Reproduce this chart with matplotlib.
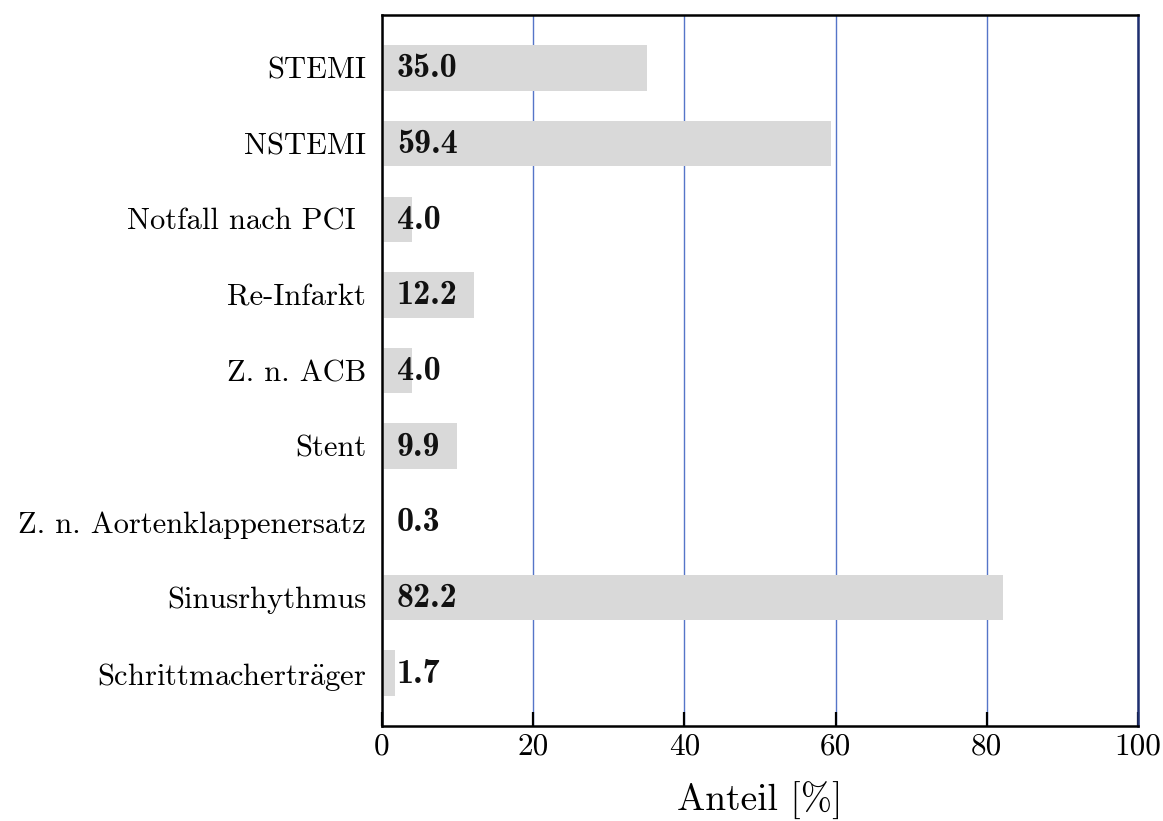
import matplotlib
matplotlib.use("Agg")
import matplotlib.pyplot as plt

categories = [
    "STEMI",
    "NSTEMI",
    "Notfall nach PCI ",
    "Re-Infarkt",
    "Z. n. ACB",
    "Stent",
    "Z. n. Aortenklappenersatz",
    "Sinusrhythmus",
    r"Schrittmachertr$\ddot{\mathrm{a}}$ger",
]
values = [35.0, 59.4, 4.0, 12.2, 4.0, 9.9, 0.3, 82.2, 1.7]
xticks = [0, 20, 40, 60, 80, 100]
xlabel = "Anteil [%]"

plt.rcParams["font.family"] = ["cmr10", "DejaVu Serif"]
plt.rcParams["mathtext.fontset"] = "cm"
plt.rcParams["axes.formatter.use_mathtext"] = True

fig = plt.figure(figsize=(11.63, 8.21), dpi=100)
ax = fig.add_axes([382 / 1163, 1 - 726 / 821, (1138 - 382) / 1163, (726 - 15) / 821])

ypos = list(range(len(categories)))
ax.barh(ypos, values, height=0.6, color="#d9d9d9", zorder=2)
for y, v in zip(ypos, values):
    ax.annotate(f"{v:.1f}", xy=(0, y), xytext=(15, -1), textcoords="offset pixels",
                ha="left", va="center", fontsize=24.5, family=["cmb10", "DejaVu Serif"],
                color="#111111", zorder=3)

ax.set_xlim(0, 100)
ax.set_ylim(len(categories) - 1 + 0.7, -0.7)
ax.set_yticks(ypos)
ax.set_yticklabels(categories, fontsize=22)
ax.set_xticks(xticks)
ax.set_xticklabels([str(t) for t in xticks], fontsize=22.5)

ax.tick_params(axis="y", length=0, pad=11.5)
ax.tick_params(axis="x", direction="in", length=10, width=1.6, pad=5, top=False)

ax.grid(axis="x", color="#5575c8", linewidth=1.0, zorder=1)
ax.grid(axis="y", visible=False)
ax.set_axisbelow(True)

for s in ax.spines.values():
    s.set_linewidth(1.8)
    s.set_color("black")
ax.spines["right"].set_color("#1f2f6f")

ax.set_xlabel(xlabel, fontsize=27, labelpad=15)

fig.savefig("out.png", dpi=100)
